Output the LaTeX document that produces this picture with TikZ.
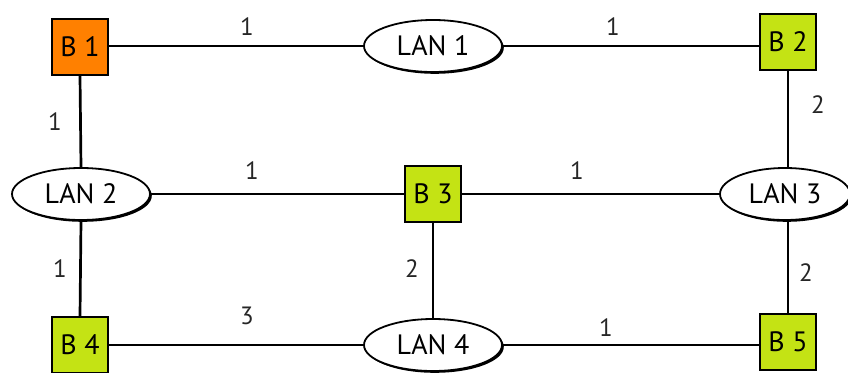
\documentclass[tikz,border=0pt]{standalone}
\usepackage{fontspec}
\setmainfont{PT Sans}
\usetikzlibrary{shapes.geometric,shadows}
\definecolor{bridgeorange}{HTML}{FF8000}
\definecolor{bridgelime}{HTML}{C4E314}
\tikzset{
  bridge/.style={draw=black, line width=1.8pt, minimum size=56pt, inner sep=0pt, font=\fontsize{28}{30}\selectfont},
  lan/.style={ellipse, draw=black, line width=1.8pt, fill=white, minimum width=138pt, minimum height=52pt, inner sep=0pt,
     font=\fontsize{28}{30}\selectfont,
     drop shadow={shadow xshift=1.8pt, shadow yshift=-1.8pt, fill=black, opacity=1}},
  link/.style={line width=2.7pt, black},
  cost/.style={font=\fontsize{25}{27}\selectfont, text=black!85}
}
\begin{document}
\begin{tikzpicture}[x=1pt,y=-1pt]
\useasboundingbox (0,0) rectangle (848,372);
% nodes
\node[bridge, fill=bridgeorange] (B1) at (80,47) {B 1};
\node[lan] (L1) at (433,46) {LAN 1};
\node[bridge, fill=bridgelime] (B2) at (788,42) {B 2};
\node[lan] (L2) at (81,194) {LAN 2};
\node[bridge, fill=bridgelime] (B3) at (433,194) {B 3};
\node[lan, minimum width=130pt] (L3) at (785,194) {LAN 3};
\node[bridge, fill=bridgelime] (B4) at (80,345) {B 4};
\node[lan] (L4) at (433,345) {LAN 4};
\node[bridge, fill=bridgelime] (B5) at (788,342) {B 5};
% links
\draw[link] (B1.east |- L1) -- (L1.west);
\draw[link] (L1.east) -- (L1.east -| B2.west);
\draw[link] (B1.south) -- (L2.north);
\draw[link] (L2.east) -- (B3.west);
\draw[link] (B3.east) -- (L3.west);
\draw[link] (B2.south) -- (B2.south |- L3.north);
\draw[link] (L3.south -| B5.north) -- (B5.north);
\draw[link] (L2.south) -- (B4.north);
\draw[link] (B3.south) -- (L4.north);
\draw[link] (B4.east) -- (L4.west);
\draw[link] (L4.east) -- (L4.east -| B5.west);
% cost labels
\node[cost] (c1) at (247,27) {1};
\node[cost] (c2) at (613,27) {1};
\node[cost] (c3) at (55,122) {1};
\node[cost] (c4) at (818,105) {2};
\node[cost] (c5) at (252,171) {1};
\node[cost] (c6) at (577,171) {1};
\node[cost] (c7) at (60,269) {1};
\node[cost] (c8) at (412,269) {2};
\node[cost] (c9) at (806,273) {2};
\node[cost] (c10) at (247,316) {3};
\node[cost] (c11) at (606,328) {1};
\end{tikzpicture}
\end{document}
